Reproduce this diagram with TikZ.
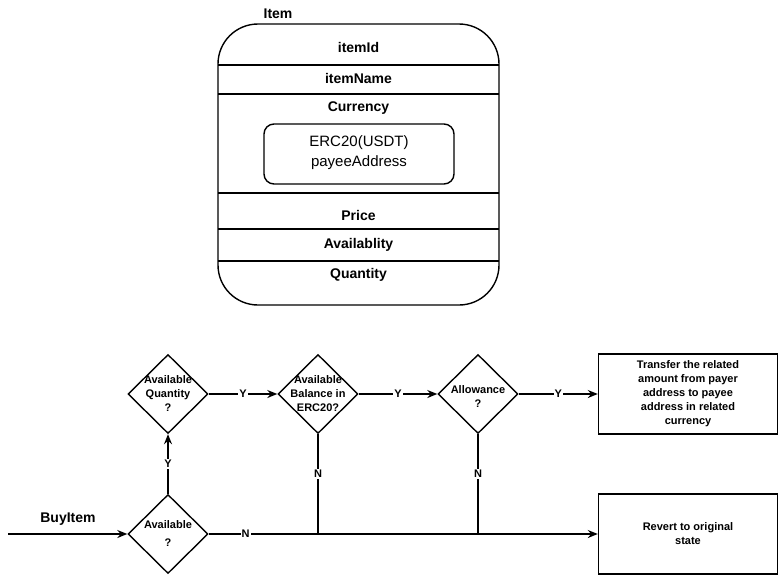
\documentclass[tikz,border=0pt]{standalone}
\usepackage{fontspec}
\setmainfont{Liberation Sans}
\usetikzlibrary{shapes.geometric,arrows.meta,positioning}

\tikzset{
  flow/.style={line width=1.4pt,-{Stealth[length=10pt,width=8pt]}},
  wire/.style={line width=1.4pt},
  decide/.style={draw,line width=1.4pt,diamond,aspect=1,minimum width=80pt,minimum height=79pt,inner sep=0pt},
  yn/.style={fill=white,inner sep=1pt,font=\fontsize{11}{12}\selectfont\bfseries},
  field/.style={font=\fontsize{14}{16}\selectfont\bfseries},
  action/.style={draw,line width=1.4pt,minimum width=179pt,minimum height=80pt,align=center,font=\fontsize{11}{14}\selectfont\bfseries}
}

\begin{document}
\begin{tikzpicture}[x=1pt,y=-1pt]
  \useasboundingbox (0,0) rectangle (779,576);

  % the Item record
  \node[field] (itemtitle) at (278,14) {Item};
  \draw [line width=1.4pt,rounded corners=40pt] (218,24) rectangle (499,305);
  \foreach \y in {65,94,193,229,261}
    \draw [line width=1.4pt] (218,\y) -- (499,\y);
  \node[field] (itemid) at (358.5,47) {itemId};
  \node[field] (itemname) at (358.5,78) {itemName};
  \node[field] (currency) at (358.5,108) {Currency};
  \draw [line width=1.4pt,rounded corners=10pt] (264,124) rectangle (454,184);
  \node[align=center,font=\fontsize{15}{20}\selectfont] (token) at (359,153) {ERC20(USDT)\\payeeAddress};
  \node[field] (price) at (358.5,215) {Price};
  \node[field] (availablity) at (358.5,245) {Availablity};
  \node[field] (quantity) at (358.5,275) {Quantity};

  % the buy flow
  \node[decide,label={[align=center,font=\fontsize{11}{18}\selectfont\bfseries]center:Available\\?}] (avail) at (168,534) {};
  \node[decide,label={[align=center,font=\fontsize{11}{14}\selectfont\bfseries]center:Available\\Quantity\\?}] (availqty) at (168,394) {};
  \node[decide,label={[align=center,font=\fontsize{11}{14}\selectfont\bfseries]center:Available\\Balance in\\ERC20?}] (balance) at (318,394) {};
  \node[decide,label={[align=center,font=\fontsize{11}{14}\selectfont\bfseries,yshift=-3pt]center:Allowance\\?}] (allow) at (478,394) {};
  \node[action] (transfer) at (688,394) {Transfer the related\\amount from payer\\address to payee\\address in related\\currency};
  \node[action] (revert) at (688,534) {Revert to original\\state};

  \coordinate (start) at (8,534);
  \node[font=\fontsize{14}{16}\selectfont\bfseries] (buyitem) at (68,519) {BuyItem};

  \draw [flow] (start) -- (avail.west);
  \draw [flow] (avail.north) -- node[yn] {Y} (availqty.south);
  \draw [flow] (availqty.east) -- node[yn] {Y} (balance.west);
  \draw [flow] (balance.east) -- node[yn] {Y} (allow.west);
  \draw [flow] (allow.east) -- node[yn] {Y} (transfer.west);
  \draw [flow] (avail.east) -- node[yn,pos=0.095] {N} (revert.west);
  \draw [wire] (balance.south) -- node[yn,pos=0.4] {N} (balance.south |- avail.east);
  \draw [wire] (allow.south) -- node[yn,pos=0.4] {N} (allow.south |- avail.east);
\end{tikzpicture}
\end{document}
